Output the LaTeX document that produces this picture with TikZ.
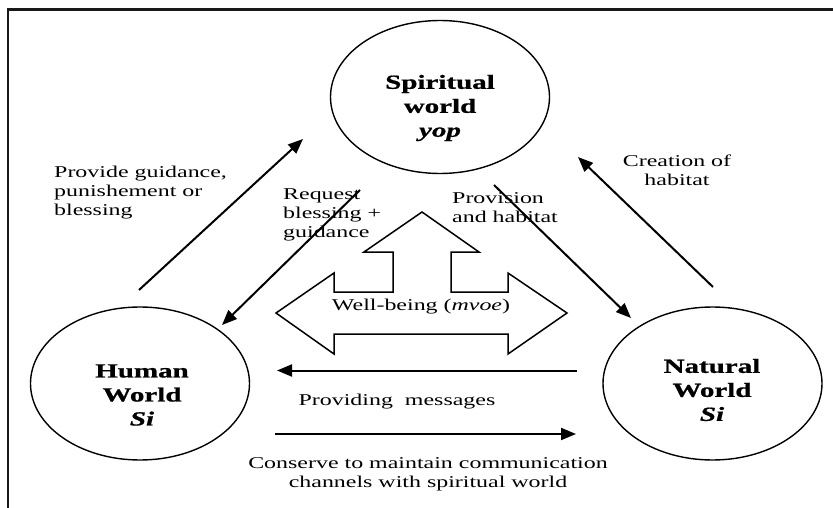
\documentclass[tikz,border=0pt]{standalone}
\usepackage{fontspec}
\setmainfont{Liberation Serif}[FakeStretch=1.45]
\usetikzlibrary{arrows.meta,shapes.geometric}
\begin{document}
\begin{tikzpicture}[x=1pt,y=-1pt,
  world/.style={draw, ellipse, line width=1.4pt, minimum width=219pt,
    minimum height=153pt, inner sep=0pt},
  worldtext/.style={font=\fontsize{20}{24}\selectfont\bfseries
    \addfontfeatures{FakeBold=0.9}, align=center, inner sep=0pt},
  lbl/.style={font=\fontsize{16.5}{19}\selectfont, inner sep=0pt},
  link/.style={line width=2pt, -{Triangle[length=15pt,width=12pt]}},
  frameline/.style={line width=2.2pt, draw=black!90},
  bigarrow/.style={draw, line width=1.5pt, line join=miter, fill=white}
]
\useasboundingbox (0,0) rectangle (833,508);

% outer frame (top and left edges)
\draw[frameline] (8,508) -- (8,9.5) -- (833,9.5);

% the three worlds
\node[world] (spirit) at (440,97) {};
\node[world] (human)  at (140,383.5) {};
\node[world] (nature) at (712.5,383.5) {};
\node[worldtext] (spiritname) at (440,108) {Spiritual\\world\\\textit{yop}};
\node[worldtext] (humanname)  at (142,395) {Human\\World\\\textit{Si}};
\node[worldtext] (naturename) at (712,390) {Natural\\World\\\textit{Si}};

% arrow end points
\coordinate (g1) at (139,290);  \coordinate (g2) at (303,139);
\coordinate (r1) at (360,190);  \coordinate (r2) at (222,325);
\coordinate (p1) at (494,185);  \coordinate (p2) at (631,318);
\coordinate (c1) at (713,287);  \coordinate (c2) at (578,157);
\coordinate (m1) at (577,370.5);\coordinate (m2) at (277,370.5);
\coordinate (k1) at (275,434);  \coordinate (k2) at (576,434);

\draw[link] (g1) -- (g2);
\draw[link] (r1) -- (r2);
\draw[link] (p1) -- (p2);
\draw[link] (c1) -- (c2);
\draw[link] (m1) -- (m2);
\draw[link] (k1) -- (k2);

% well-being block arrow (up, left and right)
\draw[bigarrow] (422,212) -- (479,252) -- (451,252) -- (451,292)
  -- (508,292) -- (508,273) -- (567,313) -- (508,354) -- (508,334)
  -- (334,334) -- (334,354) -- (276,313) -- (334,273) -- (334,292)
  -- (393,292) -- (393,252) -- (364,252) -- cycle;

% labels
\node[lbl, align=left, anchor=west] (guide) at (54,193)
  {Provide guidance,\\punishement or\\blessing};
\node[lbl, align=left, anchor=west] (request) at (283,215)
  {Request\\blessing +\\guidance};
\node[lbl, align=left, anchor=west] (provision) at (452,208)
  {Provision\\and habitat};
\node[lbl, align=center] (creation) at (677,170) {Creation of\\habitat};
\node[lbl] (wellbeing) at (421,307) {Well-being (\textit{mvoe})};
\node[lbl] (messages) at (397,402) {Providing\ \ messages};
\node[lbl, align=center] (conserve) at (428,474)
  {Conserve to maintain communication\\channels with spiritual world};
\end{tikzpicture}
\end{document}
